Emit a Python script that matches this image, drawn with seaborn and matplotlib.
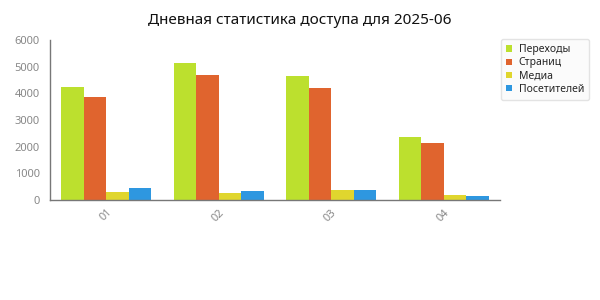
import matplotlib
matplotlib.use("Agg")
import matplotlib.pyplot as plt
import seaborn as sns
import pandas as pd

days = ["01", "02", "03", "04"]
series_names = ["Переходы", "Страниц", "Медиа", "Посетителей"]
perehody = [4250, 5125, 4650, 2360]
stranic = [3870, 4690, 4190, 2125]
media = [300, 260, 360, 190]
posetiteli = [440, 340, 360, 140]
colors = ["#bce02e", "#e0642e", "#e0d62e", "#2e97e0"]

rows = []
for name, vals in zip(series_names, [perehody, stranic, media, posetiteli]):
    for d, v in zip(days, vals):
        rows.append({"day": d, "series": name, "value": v})
df = pd.DataFrame(rows)

sns.set_style("white")
plt.rcParams['font.family'] = ['Noto Sans', 'DejaVu Sans']

fig = plt.figure(figsize=(6, 3), dpi=100)
ax = fig.add_axes([50/600, 1-200/300, 450/600, 160/300])
sns.barplot(data=df, x="day", y="value", hue="series", palette=colors,
            order=days, hue_order=series_names, ax=ax, width=0.8,
            saturation=1, linewidth=0)
ax.set_xlim(-0.5, 3.5)
ax.set_ylim(0, 6000)
ax.set_yticks(range(0, 6001, 1000))
ax.set_xlabel("")
ax.set_ylabel("")
for s in ["top", "right"]:
    ax.spines[s].set_visible(False)
for s in ["left", "bottom"]:
    ax.spines[s].set_color("#777777")
    ax.spines[s].set_linewidth(1)
ax.tick_params(axis="both", colors="#888888", labelsize=8, length=4, width=1, direction="out")
ax.tick_params(axis="x", pad=1)
for lab in ax.get_xticklabels():
    lab.set_rotation(45)
    lab.set_ha("right")
    lab.set_rotation_mode("anchor")
ax.grid(False)
fig.suptitle("Дневная статистика доступа для 2025-06", y=0.955, fontsize=11, color="#111111")
leg = ax.legend(loc="upper left", bbox_to_anchor=(451/450, 1.005), frameon=True, fontsize=7.5,
                handlelength=0.6, handleheight=0.6, handletextpad=0.6, borderpad=0.5,
                labelspacing=0.2, borderaxespad=0.0, fancybox=True, shadow=False)
leg.get_frame().set_edgecolor("#dddddd")
leg.get_frame().set_facecolor("#fafafa")
fig.savefig("out.png", dpi=100)
